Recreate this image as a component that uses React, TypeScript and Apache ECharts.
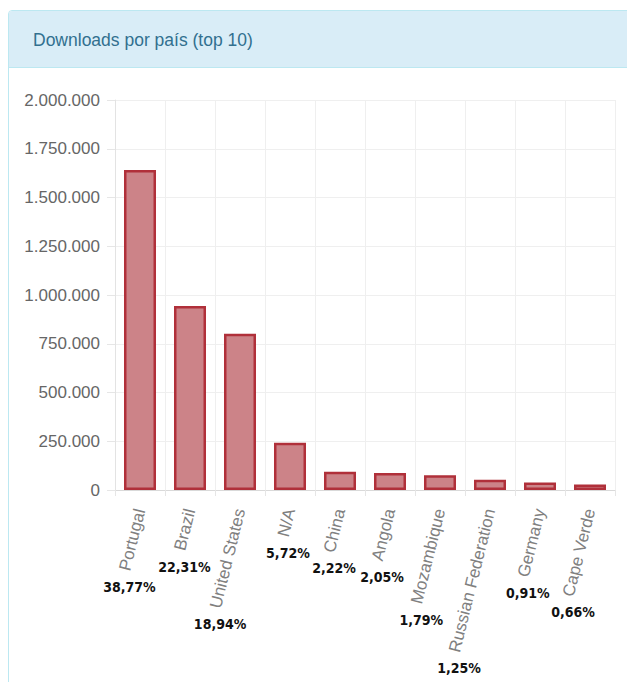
import React, { useEffect, useRef } from "react";
import * as echarts from "echarts";

const categories = [
  "Portugal",
  "Brazil",
  "United States",
  "N/A",
  "China",
  "Angola",
  "Mozambique",
  "Russian Federation",
  "Germany",
  "Cape Verde",
];
const downloads = [1641000, 944000, 801500, 242000, 94000, 86800, 75800, 52900, 38500, 27900];
const percentages = ["38,77%", "22,31%", "18,94%", "5,72%", "2,22%", "2,05%", "1,79%", "1,25%", "0,91%", "0,66%"];
const yMin = 0;
const yMax = 2000000;
const yStep = 250000;

const LABEL_FONT = "'Liberation Sans', Arial, Helvetica, sans-serif";
const PCT_FONT = "'DejaVu Sans Condensed', 'DejaVu Sans', sans-serif";
const ROTATE = 76;
const X_FONT_SIZE = 17;
const X_MARGIN = 19;

function fmt(v: number): string {
  return String(Math.round(v)).replace(/\B(?=(\d{3})+(?!\d))/g, ".");
}

export default function App() {
  const ref = useRef<HTMLDivElement>(null);

  useEffect(() => {
    const el = ref.current;
    if (!el) return;
    const chart = echarts.init(el, null, { renderer: "svg" });
    chart.setOption({
      animation: false,
      backgroundColor: "transparent",
      grid: { left: 115, top: 100, width: 500, height: 390, containLabel: false },
      xAxis: {
        type: "category",
        data: categories,
        boundaryGap: true,
        axisLine: { show: true, lineStyle: { color: "#d9d9d9", width: 1 } },
        axisTick: { show: true, length: 6, lineStyle: { color: "#e6e6e6" } },
        splitLine: { show: true, interval: 0, lineStyle: { color: "#efefef", width: 1 } },
        axisLabel: {
          interval: 0,
          rotate: ROTATE,
          margin: X_MARGIN,
          color: "#808080",
          fontSize: X_FONT_SIZE,
          fontFamily: LABEL_FONT,
        },
      },
      yAxis: {
        type: "value",
        min: yMin,
        max: yMax,
        interval: yStep,
        axisLine: { show: true, lineStyle: { color: "#e3e3e3", width: 1 } },
        axisTick: { show: true, length: 8, lineStyle: { color: "#e6e6e6" } },
        splitLine: { show: true, lineStyle: { color: "#efefef", width: 1 } },
        axisLabel: {
          margin: 15,
          color: "#666",
          fontSize: 17,
          fontFamily: LABEL_FONT,
          formatter: (v: number) => fmt(v),
        },
      },
      series: [
        {
          type: "bar",
          data: downloads,
          barWidth: 32,
          itemStyle: {
            color: "#cc8388",
            borderColor: "#b0303a",
            borderWidth: 2.5,
          },
          emphasis: { disabled: true },
        },
      ],
    });

    const base = el.getBoundingClientRect();
    const texts = Array.from(el.querySelectorAll("text"));
    const canvas = document.createElement("canvas");
    const ctx = canvas.getContext("2d");
    const th = (ROTATE * Math.PI) / 180;

    const graphics = categories.map((c, i) => {
      let x = 0;
      let y = 0;
      const node = texts.find((n) => (n.textContent || "").trim() === c);
      if (node) {
        const r = node.getBoundingClientRect();
        x = r.left - base.left + 14;
        y = r.bottom - base.top + 14;
      } else {
        const px = chart.convertToPixel({ xAxisIndex: 0 }, i) as number;
        const y0 = (chart.convertToPixel({ yAxisIndex: 0 }, 0) as number) + X_MARGIN;
        let L = c.length * 8;
        if (ctx) {
          ctx.font = `${X_FONT_SIZE}px ${LABEL_FONT}`;
          L = ctx.measureText(c).width;
        }
        x = px - L * Math.cos(th) - 8 + 14;
        y = y0 + L * Math.sin(th) + 3 + 14;
      }
      return {
        type: "text",
        x,
        y,
        silent: true,
        style: {
          text: percentages[i],
          fill: "#111",
          fontSize: 14,
          fontWeight: "bold",
          fontFamily: PCT_FONT,
          align: "center",
          verticalAlign: "middle",
          textAlign: "center",
          textVerticalAlign: "middle",
        },
      };
    });
    chart.setOption({ graphic: graphics });

    return () => {
      chart.dispose();
    };
  }, []);

  return (
    <div
      style={{
        position: "absolute",
        left: 0,
        top: 0,
        width: 627,
        height: 682,
        overflow: "hidden",
        background: "#fff",
      }}
    >
      <div
        style={{
          position: "absolute",
          left: 8,
          top: 10,
          width: 660,
          height: 720,
          border: "1px solid #bce8f1",
          borderRadius: 4,
          background: "#fff",
          boxSizing: "border-box",
          overflow: "hidden",
        }}
      >
        <div
          style={{
            height: 57,
            background: "#d9edf7",
            borderBottom: "1px solid #bce8f1",
            boxSizing: "border-box",
          }}
        />
      </div>
      <div
        style={{
          position: "absolute",
          left: 33,
          top: 29,
          fontFamily: LABEL_FONT,
          fontSize: 17.5,
          lineHeight: "22px",
          color: "#31708f",
          whiteSpace: "nowrap",
        }}
      >
        Downloads por país (top 10)
      </div>
      <div ref={ref} style={{ position: "absolute", left: 0, top: 0, width: 627, height: 682 }} />
    </div>
  );
}
